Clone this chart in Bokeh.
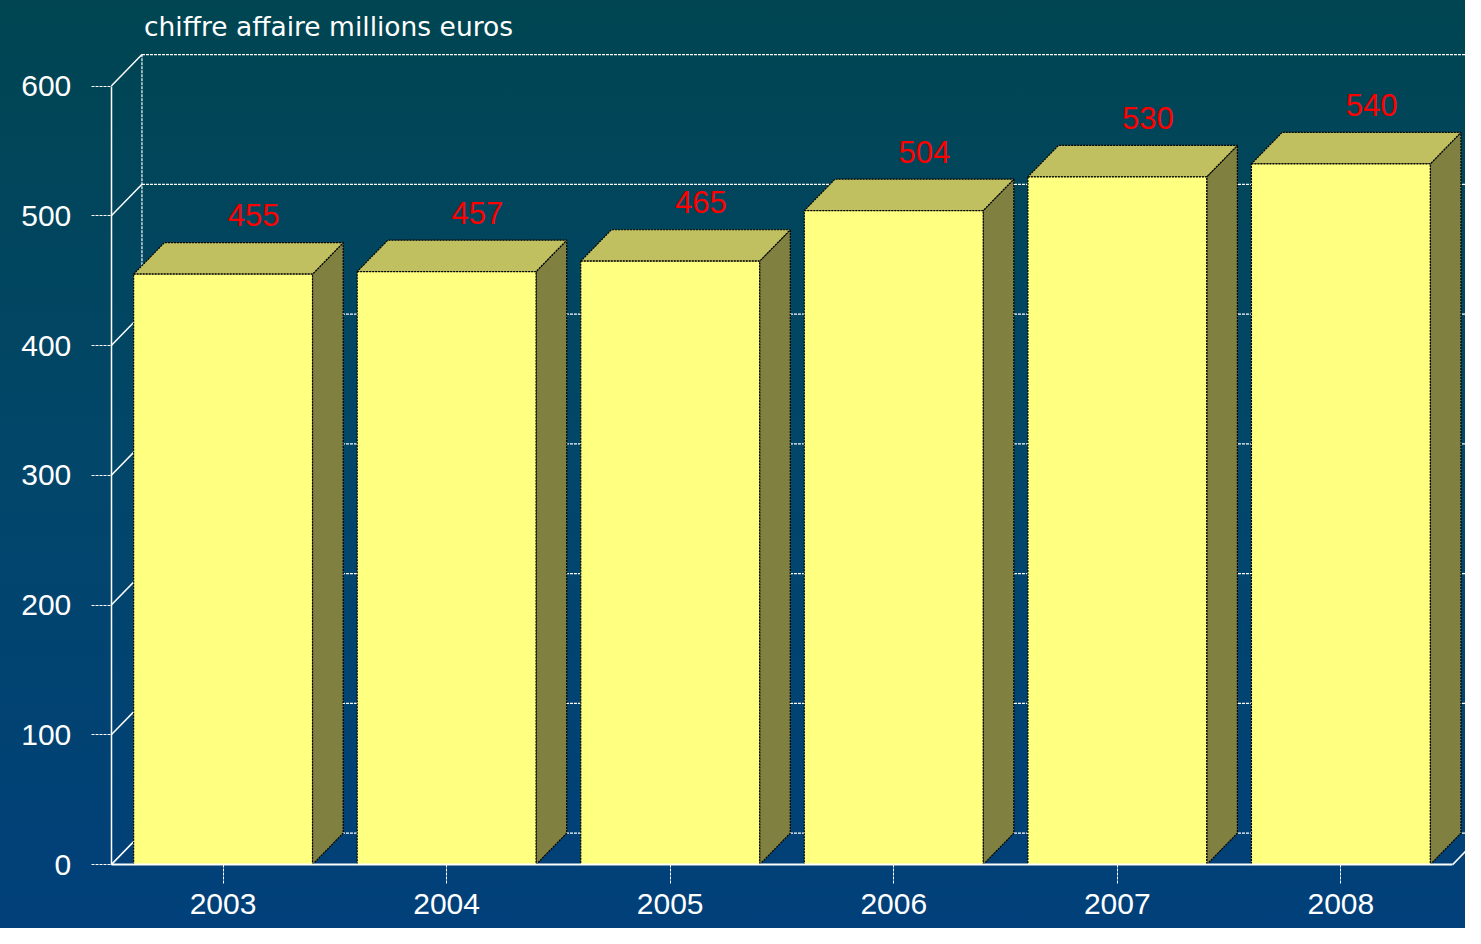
import numpy as np
from bokeh.plotting import figure
from bokeh.models import FixedTicker, Range1d, Label, ColumnDataSource
from bokeh.core.properties import value
from bokeh.embed import file_html
from bokeh.resources import INLINE

# ---- data ----
years = ["2003", "2004", "2005", "2006", "2007", "2008"]
revenue = [455, 457, 465, 504, 530, 540]
y_ticks = [0, 100, 200, 300, 400, 500, 600]
title_text = "chiffre affaire millions euros"

# ---- geometry (pixels -> data units) ----
W, H = 1465, 928
SX, SY = W / 1481, H / 944
CAT_PX = 226.0 * SX             # pixels per category
PX_PER_UNIT = 1.32 * SY         # pixels per value unit
X0_PX, Y0_PX = 112 * SX, 879 * SY  # canvas position of the (0,0) front corner
DX = 31 * SX / CAT_PX           # depth offset (x)
DY = 32 * SY / PX_PER_UNIT      # depth offset (y)
BAR_HALF = 0.4
LABEL_RISE = 60 * SY / PX_PER_UNIT  # value label centre above the bar front top

x_start = -X0_PX / CAT_PX
x_end = (W - X0_PX) / CAT_PX
y_start = -(H - Y0_PX) / PX_PER_UNIT
y_end = Y0_PX / PX_PER_UNIT

p = figure(width=W, height=H, x_range=Range1d(x_start, x_end),
           y_range=Range1d(y_start, y_end), output_backend="svg",
           toolbar_location=None, min_border=0, min_border_left=0,
           min_border_right=0, min_border_top=0, min_border_bottom=0)
p.title.visible = False
p.outline_line_color = None
p.background_fill_alpha = 0
p.border_fill_alpha = 0
p.styles = {"background-image": "linear-gradient(to bottom, #004551 0%, #02466a 50%, #01407a 100%)"}
p.grid.visible = False

WHITE = "#ffffff"
n = len(years)
centers = np.arange(n) + 0.5
vals = np.array(revenue, dtype=float)
grid_vals = np.array(y_ticks, dtype=float)
ymax = max(y_ticks)

# back wall gridlines
p.segment(x0=[DX] * len(grid_vals), y0=grid_vals + DY, x1=[x_end] * len(grid_vals),
          y1=grid_vals + DY, line_color=WHITE, line_width=1.2, line_dash="3 1")
# back wall left vertical
p.segment(x0=[DX], y0=[DY], x1=[DX], y1=[ymax + DY], line_color=WHITE,
          line_width=1.2, line_dash="3 1")
# left wall diagonals
p.segment(x0=[0] * len(grid_vals), y0=grid_vals, x1=[DX] * len(grid_vals),
          y1=grid_vals + DY, line_color=WHITE, line_width=1.5)
# floor right edge
p.segment(x0=[n], y0=[0], x1=[n + DX], y1=[DY], line_color=WHITE, line_width=1.5)

# bars
left = centers - BAR_HALF
right = centers + BAR_HALF
side_xs = [[r, r + DX, r + DX, r] for r in right]
side_ys = [[0, DY, v + DY, v] for v in vals]
top_xs = [[l, r, r + DX, l + DX] for l, r in zip(left, right)]
top_ys = [[v, v, v + DY, v + DY] for v in vals]

p.patches(xs=side_xs, ys=side_ys, fill_color="#808040", line_color="black",
          line_width=1.2, line_dash="2 1")
p.patches(xs=top_xs, ys=top_ys, fill_color="#c0c060", line_color="black",
          line_width=1.2, line_dash="2 1")
p.quad(left=left, right=right, bottom=0, top=vals, fill_color="#ffff80",
       line_color="black", line_width=1.2, line_dash="2 1")

# value labels
src = ColumnDataSource(dict(x=centers + DX, y=vals + LABEL_RISE,
                            t=[str(v) for v in revenue]))
p.text(x="x", y="y", text="t", source=src, text_color="#ff0000",
       text_font=value("Liberation Sans"), text_font_size="31px",
       text_align="center", text_baseline="middle")

# axes
yax = p.yaxis[0]
yax.fixed_location = 0
yax.bounds = (0, ymax)
yax.ticker = FixedTicker(ticks=y_ticks)
yax.axis_line_color = WHITE
yax.axis_line_width = 1.5
yax.major_tick_in = 0
yax.major_tick_out = 20
yax.major_tick_line_color = WHITE
yax.major_tick_line_dash = "3 1"
yax.minor_tick_line_color = None
yax.major_label_text_color = WHITE
yax.major_label_text_font = "Liberation Sans"
yax.major_label_text_font_size = "30px"
yax.major_label_standoff = 20

xax = p.xaxis[0]
xax.fixed_location = 0
xax.bounds = (0, n)
xax.ticker = FixedTicker(ticks=list(centers))
xax.major_label_overrides = {float(c): y for c, y in zip(centers, years)}
xax.axis_line_color = WHITE
xax.axis_line_width = 2
xax.major_tick_in = 0
xax.major_tick_out = 19
xax.major_tick_line_color = WHITE
xax.major_tick_line_dash = "3 1"
xax.minor_tick_line_color = None
xax.major_label_text_color = WHITE
xax.major_label_text_font = "Liberation Sans"
xax.major_label_text_font_size = "30px"
xax.major_label_standoff = 10

# chart title
p.add_layout(Label(x=33 * SX / CAT_PX, y=(879 - 26) * SY / PX_PER_UNIT, text=title_text,
                   text_color=WHITE, text_font="DejaVu Sans", text_font_size="26.5px",
                   text_baseline="middle", text_align="left"))

open("out.html", "w").write(file_html(p, INLINE))
